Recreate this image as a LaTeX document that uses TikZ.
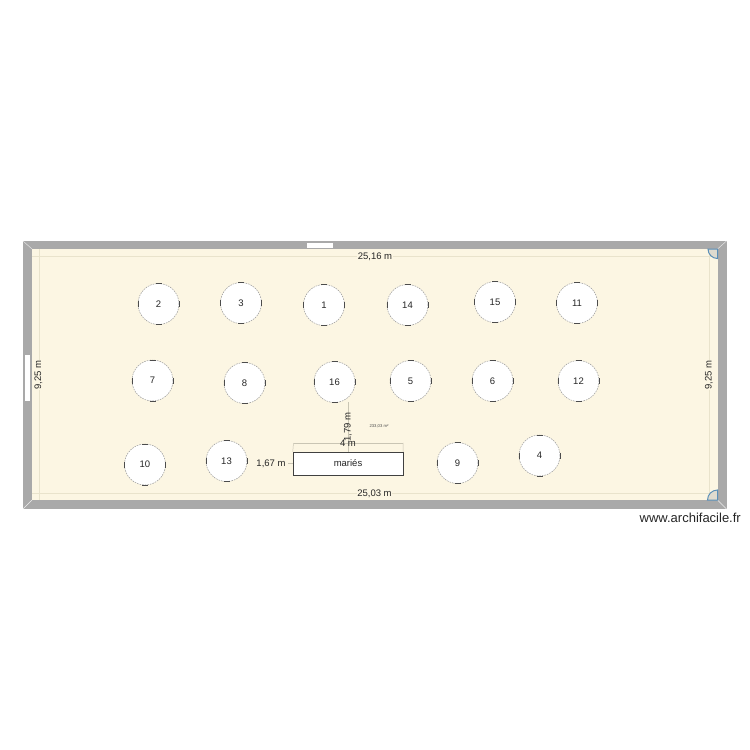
\documentclass[tikz,border=0pt]{standalone}
\usepackage{fontspec}
\setmainfont{Liberation Sans}
\definecolor{wallc}{HTML}{A9A9A9}
\definecolor{floorc}{HTML}{FCF6E3}
\definecolor{dimc}{HTML}{E9E3CC}
\definecolor{dimd}{HTML}{C9C5B4}
\definecolor{doorc}{HTML}{5A8FB8}
\tikzset{
  x=1pt,y=-1pt,
  dimlab/.style={font=\fontsize{9.5}{11}\selectfont,text=black!85,inner sep=0.5pt,fill=floorc},
  dimline/.style={draw=dimc,line width=0.7pt},
  dimdark/.style={draw=dimd,line width=0.5pt},
  tablec/.style={circle,minimum size=41pt,inner sep=0,fill=white,draw=black!40,line width=0.5pt,dash pattern=on 1.6pt off 1pt,font=\fontsize{9.5}{11}\selectfont,text=black!85},
  tick/.style={draw=black!70,line width=0.5pt},
  winbox/.style={fill=white,draw=none},
  door/.style={draw=doorc,line width=1pt,fill=wallc!35!floorc}
}
\newcommand{\roundtable}[4]{%
  \node[tablec] (#1) at (#2,#3) {#4};
  \draw[tick] (#2-3,#3+20.5) -- (#2+3,#3+20.5);
  \draw[tick] (#2-3,#3-20.5) -- (#2+3,#3-20.5);
  \draw[tick] (#2-20.5,#3-3) -- (#2-20.5,#3+3);
  \draw[tick] (#2+20.5,#3-3) -- (#2+20.5,#3+3);
}
\begin{document}
\begin{tikzpicture}
\useasboundingbox (0,0) rectangle (750,750);
\fill[white] (0,0) rectangle (750,750);
% walls and floor
\fill[wallc] (23,241) rectangle (726.5,509);
\fill[floorc] (32,249) rectangle (717.5,500);
\draw[white!80!wallc,line width=0.4pt] (23,241) -- (32,249) (726.5,241) -- (717.5,249) (726.5,509) -- (717.5,500) (23,509) -- (32,500);
% windows
\fill[winbox] (307,242.5) rectangle (333,247.5);
\fill[winbox] (25,355) rectangle (30,401);
% dimension lines
\coordinate (tl) at (32,256); \coordinate (tr) at (717,256);
\coordinate (bl) at (32,493); \coordinate (br) at (717,493);
\coordinate (ltop) at (39,249); \coordinate (lbot) at (39,500);
\coordinate (rtop) at (709,249); \coordinate (rbot) at (709,500);
\draw[dimline] (tl) -- (tr);
\draw[dimline] (bl) -- (br);
\draw[dimline] (ltop) -- (lbot);
\draw[dimline] (rtop) -- (rbot);
% doors
\draw[door] (708,249) -- (717.5,249) -- (717.5,258.5) arc[start angle=90,end angle=180,radius=9.5] -- cycle;
\draw[door] (707.5,500) -- (717.5,500) -- (717.5,490) arc[start angle=-90,end angle=-180,radius=10] -- cycle;
\node[dimlab] (dtop) at (375,256.5) {25,16 m};
\node[dimlab] (dbot) at (374.5,493.5) {25,03 m};
\node[dimlab,rotate=90] (dleft) at (38.5,375) {9,25 m};
\node[dimlab,rotate=90] (dright) at (709,375) {9,25 m};
% tables
\roundtable{t2}{158.5}{304}{2}
\roundtable{t3}{241}{303}{3}
\roundtable{t1}{324}{305}{1}
\roundtable{t14}{407.5}{305}{14}
\roundtable{t15}{495}{302}{15}
\roundtable{t11}{577}{303}{11}
\roundtable{t7}{152.5}{380.5}{7}
\roundtable{t8}{244.5}{383}{8}
\roundtable{t16}{334.5}{382}{16}
\roundtable{t5}{410.5}{381}{5}
\roundtable{t6}{492.5}{381}{6}
\roundtable{t12}{578.5}{381}{12}
\roundtable{t10}{145}{464.5}{10}
\roundtable{t13}{226.5}{461}{13}
\roundtable{t9}{457.5}{463}{9}
\roundtable{t4}{539.5}{455.5}{4}
% bride and groom table
\node[draw=black!75,fill=white,line width=0.5pt,minimum width=110pt,minimum height=23pt,inner sep=0,font=\fontsize{9.5}{11}\selectfont,text=black!85] (maries) at (348,463.5) {mariés};
\coordinate (a1) at (293.5,443); \coordinate (a2) at (403,443);
\coordinate (b1) at (348,402); \coordinate (b2) at (348,452);
\coordinate (c1) at (288,463.5);
\draw[dimdark] (a1) -- (a2);
\draw[dimdark] (a1) -- (maries.north west) (a2) -- (maries.north east);
\draw[dimdark] (b1) -- (b2);
\draw[dimdark] (c1) -- (maries.west);
\node[font=\fontsize{9.5}{11}\selectfont,text=black!85,inner sep=0.5pt] (d167) at (271,464) {1,67 m};
\node[font=\fontsize{9.5}{11}\selectfont,text=black!85,inner sep=0.5pt,rotate=90] (d179) at (348,427) {1,79 m};
\node[font=\fontsize{9.5}{11}\selectfont,text=black!85,inner sep=0.5pt] (d4) at (348,443) {4 m};
\node[font=\fontsize{4.2}{5}\selectfont,text=black!70,inner sep=0] (area) at (379,426) {233,03 m²};
% watermark
\node[font=\fontsize{13}{15}\selectfont,text=black!85,anchor=east,inner sep=0] (wm) at (741,518) {www.archifacile.fr};
\end{tikzpicture}
\end{document}
